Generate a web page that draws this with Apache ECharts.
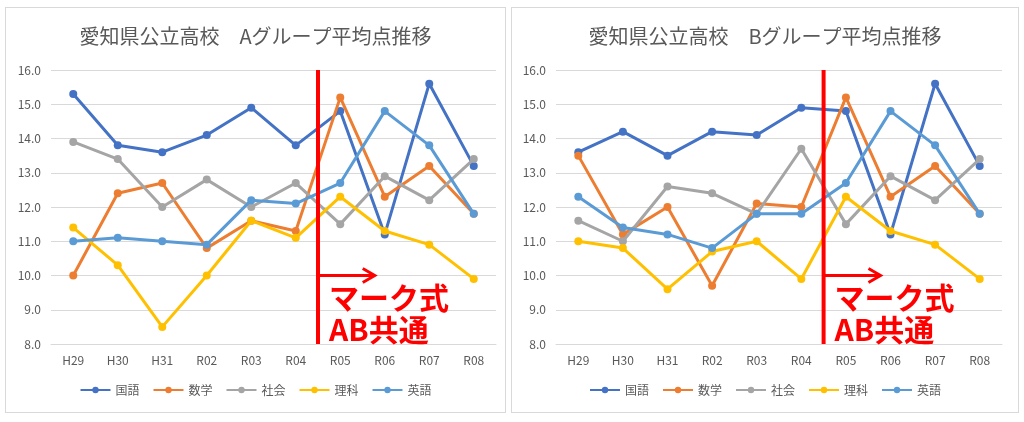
<!DOCTYPE html>
<html><head><meta charset="utf-8">
<script src="https://cdn.jsdelivr.net/npm/echarts@6/dist/echarts.min.js"></script>
<style>
html,body{margin:0;padding:0;background:#fff;width:1024px;height:422px;overflow:hidden;}
.box{position:absolute;top:7px;height:406px;border:1px solid #D9D9D9;box-sizing:border-box;background:#fff;}
</style></head>
<body>
<div id="ca" class="box" style="left:5px;width:501px;"></div>
<div id="cb" class="box" style="left:511px;width:508px;"></div>
<script>
const categories = ['H29','H30','H31','R02','R03','R04','R05','R06','R07','R08'];
const subjects = ['国語','数学','社会','理科','英語'];
const colors = ['#4472C4','#ED7D31','#A5A5A5','#FFC000','#5B9BD5'];

const titleA = '愛知県公立高校　Aグループ平均点推移';
const titleB = '愛知県公立高校　Bグループ平均点推移';
const noteLine1 = 'マーク式';
const noteLine2 = 'AB共通';

// Group A
const A_kokugo = [15.3, 13.8, 13.6, 14.1, 14.9, 13.8, 14.8, 11.2, 15.6, 13.2];
const A_sugaku = [10.0, 12.4, 12.7, 10.8, 11.6, 11.3, 15.2, 12.3, 13.2, 11.8];
const A_shakai = [13.9, 13.4, 12.0, 12.8, 12.0, 12.7, 11.5, 12.9, 12.2, 13.4];
const A_rika   = [11.4, 10.3, 8.5, 10.0, 11.6, 11.1, 12.3, 11.3, 10.9, 9.9];
const A_eigo   = [11.0, 11.1, 11.0, 10.9, 12.2, 12.1, 12.7, 14.8, 13.8, 11.8];

// Group B
const B_kokugo = [13.6, 14.2, 13.5, 14.2, 14.1, 14.9, 14.8, 11.2, 15.6, 13.2];
const B_sugaku = [13.5, 11.2, 12.0, 9.7, 12.1, 12.0, 15.2, 12.3, 13.2, 11.8];
const B_shakai = [11.6, 11.0, 12.6, 12.4, 11.8, 13.7, 11.5, 12.9, 12.2, 13.4];
const B_rika   = [11.0, 10.8, 9.6, 10.7, 11.0, 9.9, 12.3, 11.3, 10.9, 9.9];
const B_eigo   = [12.3, 11.4, 11.2, 10.8, 11.8, 11.8, 12.7, 14.8, 13.8, 11.8];

const yMin = 8, yMax = 16, yStep = 1;
const FONT = '"Noto Sans CJK JP", "Noto Sans", sans-serif';

function makeOption(title, dataList, gridLeft, gridRight) {
  return {
    animation: false,
    textStyle: { fontFamily: FONT },
    title: {
      text: title, left: 'center', top: 13,
      textStyle: { color: '#595959', fontSize: 20, fontWeight: 'normal', fontFamily: FONT }
    },
    grid: { left: gridLeft, right: gridRight, top: 62, bottom: 68, containLabel: false },
    legend: {
      bottom: 11, left: 'center', itemWidth: 30, itemHeight: 8, itemGap: 13,
      textStyle: { color: '#595959', fontSize: 12, fontFamily: FONT },
      data: subjects
    },
    xAxis: {
      type: 'category', data: categories, boundaryGap: true,
      axisLine: { lineStyle: { color: '#D9D9D9' } },
      axisTick: { show: false },
      axisLabel: { color: '#595959', fontSize: 12, margin: 10, fontFamily: FONT }
    },
    yAxis: {
      type: 'value', min: yMin, max: yMax, interval: yStep,
      axisLine: { show: false }, axisTick: { show: false },
      axisLabel: { color: '#595959', fontSize: 12, margin: 10, fontFamily: FONT,
        formatter: v => v.toFixed(1) },
      splitLine: { lineStyle: { color: '#D9D9D9', width: 1 } }
    },
    series: subjects.map((s, i) => ({
      name: s, type: 'line', data: dataList[i],
      symbol: 'circle', symbolSize: 8,
      lineStyle: { width: 3, color: colors[i] },
      itemStyle: { color: colors[i] },
      z: 2 + i
    }))
  };
}

function addNote(chart) {
  const p4 = chart.convertToPixel({ gridIndex: 0 }, ['R04', yMin]);
  const p5 = chart.convertToPixel({ gridIndex: 0 }, ['R05', yMin]);
  const pTop = chart.convertToPixel({ gridIndex: 0 }, ['R05', yMax]);
  const pArr = chart.convertToPixel({ gridIndex: 0 }, ['R05', 10]);
  const p6 = chart.convertToPixel({ gridIndex: 0 }, ['R06', 10]);
  const x = (p4[0] + p5[0]) / 2;
  const tipX = p6[0] - 10;
  const ay = pArr[1];
  chart.setOption({
    graphic: [
      { type: 'line', z: 100, shape: { x1: x, y1: pTop[1], x2: x, y2: p5[1] },
        style: { stroke: '#FF0000', lineWidth: 4 } },
      { type: 'line', z: 100, shape: { x1: x, y1: ay, x2: tipX - 2, y2: ay },
        style: { stroke: '#FF0000', lineWidth: 3 } },
      { type: 'polyline', z: 100, shape: { points: [[tipX - 12, ay - 7], [tipX, ay], [tipX - 12, ay + 7]] },
        style: { stroke: '#FF0000', lineWidth: 3, fill: null } },
      { type: 'text', z: 100, x: x + 11, y: ay + 22,
        style: { text: noteLine1, fill: '#FF0000', font: 'bold 30px ' + FONT, verticalAlign: 'middle', align: 'left' } },
      { type: 'text', z: 100, x: x + 11, y: ay + 54,
        style: { text: noteLine2, fill: '#FF0000', font: 'bold 30px ' + FONT, verticalAlign: 'middle', align: 'left' } }
    ]
  });
}

const ca = echarts.init(document.getElementById('ca'), null, { renderer: 'canvas' });
ca.setOption(makeOption(titleA, [A_kokugo, A_sugaku, A_shakai, A_rika, A_eigo], 45, 9));
addNote(ca);

const cb = echarts.init(document.getElementById('cb'), null, { renderer: 'canvas' });
cb.setOption(makeOption(titleB, [B_kokugo, B_sugaku, B_shakai, B_rika, B_eigo], 44, 16));
addNote(cb);
</script>
</body></html>
